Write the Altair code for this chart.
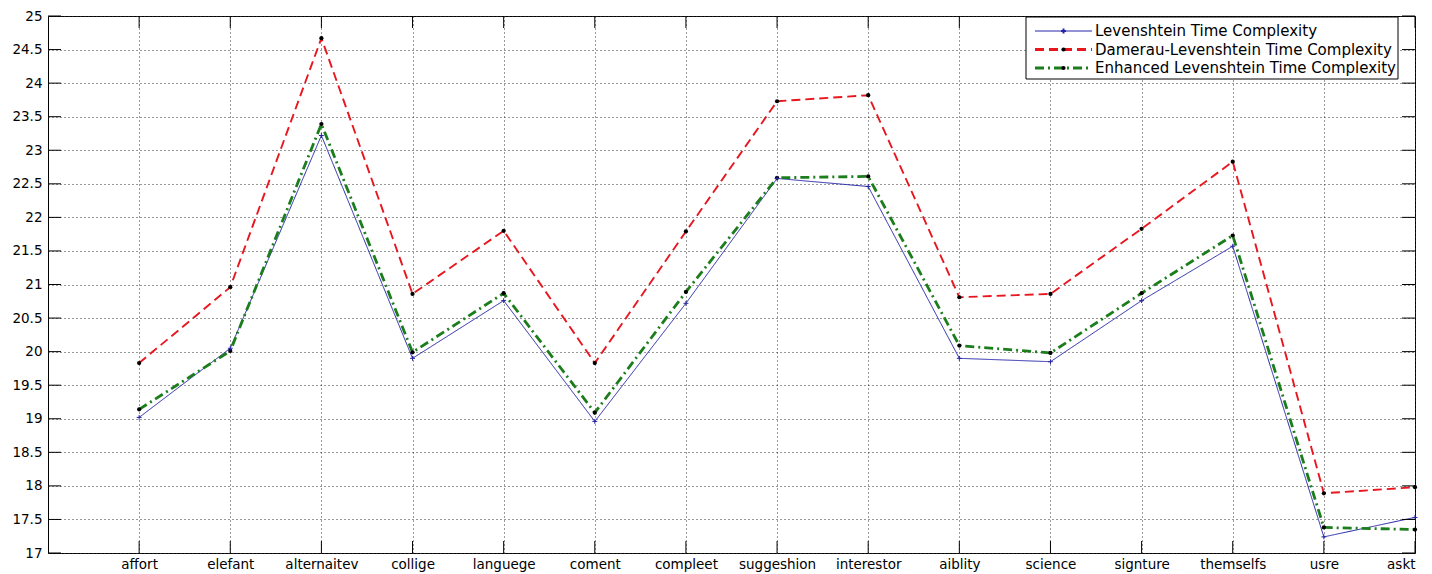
import json
import altair as alt
import pandas as pd

categories = ["affort", "elefant", "alternaitev", "collige", "languege", "coment",
              "compleet", "suggeshion", "interestor", "aiblity", "science",
              "signture", "themselfs", "usre", "askt"]
levenshtein = [19.02, 20.05, 23.22, 19.90, 20.76, 18.96, 20.72, 22.58, 22.46,
               19.90, 19.85, 20.76, 21.57, 17.24, 17.53]
damerau = [19.83, 20.96, 24.67, 20.86, 21.80, 19.83, 21.79, 23.73, 23.82,
           20.81, 20.86, 21.83, 22.83, 17.89, 17.98]
enhanced = [19.14, 20.01, 23.39, 19.99, 20.87, 19.09, 20.89, 22.59, 22.61,
            20.09, 19.98, 20.87, 21.73, 17.38, 17.35]
series_names = ["Levenshtein Time Complexity",
                "Damerau-Levenshtein Time Complexity",
                "Enhanced Levenshtein Time Complexity"]
series_colors = ["#2424a8", "#e8161e", "#1c7d1c"]
series_dash = [[1, 0], [9, 5], [9, 4, 2, 4]]
series_width = [1, 2.8, 2.8]
y_ticks = [17 + 0.5 * i for i in range(17)]
x_ticks = list(range(1, len(categories) + 1))

rows = []
for s, vals in zip(series_names, [levenshtein, damerau, enhanced]):
    for i, (c, v) in enumerate(zip(categories, vals)):
        rows.append({"idx": i + 1, "cat": c, "value": v, "series": s})
df = pd.DataFrame(rows)

W, H = 1367, 537
FONT = "DejaVu Sans"
label_expr = json.dumps(categories) + "[datum.value - 1]"

xs = alt.Scale(domain=[0, len(categories)], nice=False, zero=False)
ys = alt.Scale(domain=[17, 25], nice=False, zero=False)

grid_style = dict(grid=True, gridDash=[1, 3], gridColor="#333333", gridWidth=1)

ax_x = alt.Axis(orient="bottom", values=x_ticks, labelExpr=label_expr,
                ticks=False, tickSize=0, domain=False, labelFont=FONT,
                labelFontSize=13.5, labelColor="black", labelPadding=4,
                labelAngle=0, labelOverlap=False, title=None, **grid_style)
ax_y = alt.Axis(orient="left", values=y_ticks, labelExpr="'' + datum.value",
                ticks=False, tickSize=0, domain=False, labelFont=FONT,
                labelFontSize=13.5, labelColor="black", labelPadding=6,
                title=None, **grid_style)

X = alt.X("idx:Q", scale=xs, axis=ax_x)
Y = alt.Y("value:Q", scale=ys, axis=ax_y)

base = alt.Chart(df)

lines = base.mark_line().encode(
    x=X, y=Y,
    color=alt.Color("series:N", scale=alt.Scale(domain=series_names, range=series_colors), legend=None),
    strokeDash=alt.StrokeDash("series:N", scale=alt.Scale(domain=series_names, range=series_dash), legend=None),
    strokeWidth=alt.StrokeWidth("series:N", scale=alt.Scale(domain=series_names, range=series_width), legend=None),
)

dots = base.transform_filter(
    alt.datum.series != series_names[0]
).mark_point(filled=True, color="black", size=18, opacity=1).encode(x=X, y=Y)

plus = base.transform_filter(
    alt.datum.series == series_names[0]
).mark_point(shape="M-1,0H1M0,-1V1", filled=False, color=series_colors[0],
             size=24, strokeWidth=1, opacity=1).encode(x=X, y=Y)

# inward tick marks (MATLAB style) on all four sides
xt_df = pd.DataFrame({"idx": x_ticks})
yt_df = pd.DataFrame({"value": y_ticks})
tick_layers = [
    alt.Chart(xt_df).mark_rule(color="black", strokeWidth=1).encode(
        x=X, y=alt.value(H), y2=alt.value(H - 12)),
    alt.Chart(xt_df).mark_rule(color="black", strokeWidth=1).encode(
        x=X, y=alt.value(0), y2=alt.value(12)),
    alt.Chart(yt_df).mark_rule(color="black", strokeWidth=1).encode(
        y=Y, x=alt.value(0), x2=alt.value(13)),
    alt.Chart(yt_df).mark_rule(color="black", strokeWidth=1).encode(
        y=Y, x=alt.value(W - 13), x2=alt.value(W)),
]

# legend box (drawn by hand, MATLAB style)
LX0, LX1, LY0, LY1 = 978, 1350, 1, 63
SYM0, SYM1, TXT = 987, 1044, 1047
ROW0, ROWSTEP = 15, 18.5
one = pd.DataFrame({"k": [0]})
legend_layers = [
    alt.Chart(one).mark_rect(fill="white", stroke="black", strokeWidth=1).encode(
        x=alt.value(LX0), x2=alt.value(LX1), y=alt.value(LY0), y2=alt.value(LY1))
]
for i, name in enumerate(series_names):
    ry = ROW0 + ROWSTEP * i
    row_df = pd.DataFrame({"series": [name]})
    legend_layers.append(
        alt.Chart(row_df).mark_rule(color=series_colors[i], strokeDash=series_dash[i],
                                    strokeWidth=series_width[i]).encode(
            x=alt.value(SYM0), x2=alt.value(SYM1), y=alt.value(ry)))
    if i == 0:
        legend_layers.append(
            alt.Chart(row_df).mark_point(shape="M-1,0H1M0,-1V1", filled=False,
                                         color=series_colors[0], size=24, opacity=1).encode(
                x=alt.value((SYM0 + SYM1) / 2), y=alt.value(ry)))
    else:
        legend_layers.append(
            alt.Chart(row_df).mark_point(filled=True, color="black", size=18, opacity=1).encode(
                x=alt.value((SYM0 + SYM1) / 2), y=alt.value(ry)))
    legend_layers.append(
        alt.Chart(row_df).mark_text(align="left", baseline="middle", font=FONT,
                                    fontSize=15, color="black").encode(
            x=alt.value(TXT), y=alt.value(ry), text="series:N"))

chart = alt.layer(lines, dots, plus, *tick_layers, *legend_layers).properties(
    width=W, height=H, autosize="none",
    padding={"left": 40, "top": 8, "right": 9, "bottom": 20},
    background="white",
).configure_view(stroke="black", strokeWidth=1)

chart.save("out.html", embed_options={"renderer": "svg", "actions": False})
